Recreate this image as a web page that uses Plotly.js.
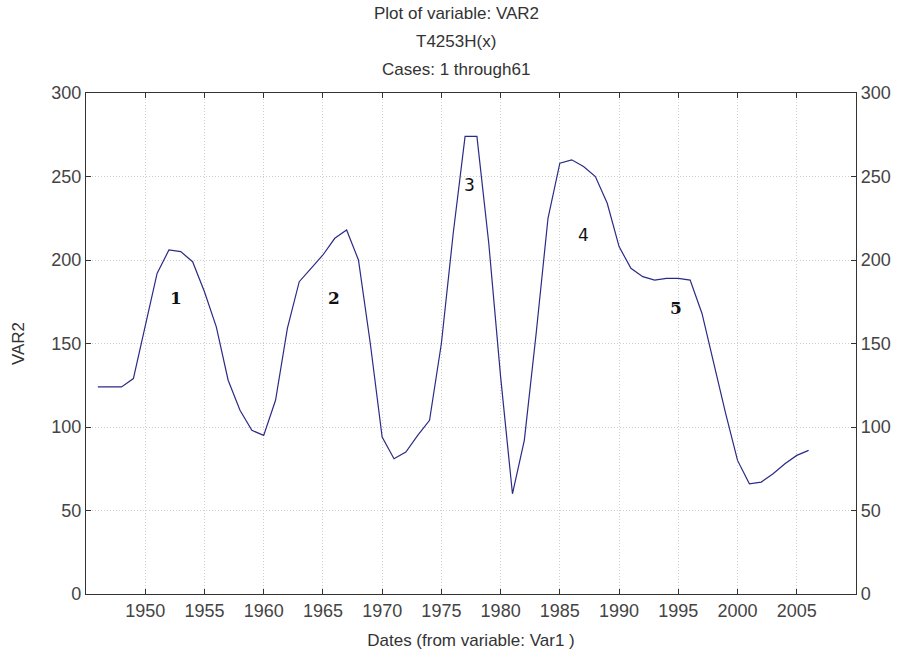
<!DOCTYPE html>
<html>
<head>
<meta charset="utf-8">
<script src="https://cdn.plot.ly/plotly-3.0.1.min.js"></script>
<style>html,body{margin:0;padding:0;background:#fff;}#chart{width:902px;height:665px;}</style>
</head>
<body>
<div id="chart"></div>
<script>
// Data: years (Var1) and smoothed VAR2 values
const years = [1946,1947,1948,1949,1950,1951,1952,1953,1954,1955,1956,1957,1958,1959,1960,
  1961,1962,1963,1964,1965,1966,1967,1968,1969,1970,1971,1972,1973,1974,1975,
  1976,1977,1978,1979,1980,1981,1982,1983,1984,1985,1986,1987,1988,1989,1990,
  1991,1992,1993,1994,1995,1996,1997,1998,1999,2000,2001,2002,2003,2004,2005,2006];
const var2 = [124,124,124,129,161,192,206,205,199,181,160,128,110,98,95,
  116,159,187,195,203,213,218,200,150,94,81,85,95,104,150,
  216,274,274,210,130,60,92,156,225,258,260,256,250,234,208,
  195,190,188,189,189,188,168,138,108,80,66,67,72,78,83,86];
const xTicks = [1950,1955,1960,1965,1970,1975,1980,1985,1990,1995,2000,2005];
const yTicks = [0,50,100,150,200,250,300];
const peakLabels = ["1","2","3","4","5"];
const peakX = [1952.6,1965.9,1977.4,1987.0,1994.8];
const peakY = [177,177,245,215,171];
const titleLines = ["Plot of variable: VAR2","T4253H(x)","Cases: 1 through61"];

const FONT = "Liberation Sans, Arial, sans-serif";
const plotTop = 93, plotH = 501, plotL = 86, plotW = 770;
const titleYpx = [13, 42, 70];
const titleAnn = titleLines.map((t, i) => ({
  text: t, xref: 'paper', yref: 'paper', x: (456 - plotL) / plotW, y: 1 + (plotTop - titleYpx[i]) / plotH,
  xanchor: 'center', yanchor: 'middle', showarrow: false,
  font: {family: FONT, size: 17, color: '#333'}
}));
const peakSerif = [true, true, false, false, true];
const peakAnn = peakLabels.map((t, i) => ({
  text: peakSerif[i] ? '<b>' + t + '</b>' : t, x: peakX[i], y: peakY[i], xref: 'x', yref: 'y',
  showarrow: false, xanchor: 'center', yanchor: 'middle',
  font: {family: peakSerif[i] ? 'DejaVu Serif, serif' : 'DejaVu Sans, sans-serif', size: 17, color: '#111'}
}));

const axisCommon = {
  showline: true, linecolor: '#333', linewidth: 1.2, mirror: false,
  ticks: 'inside', ticklen: 5, tickcolor: '#333',
  showgrid: true, gridcolor: '#cfcfcf', griddash: '1px,2px', gridwidth: 1,
  zeroline: false, tickfont: {family: FONT, size: 18, color: '#444'}
};

const data = [
  {x: years, y: var2, type: 'scatter', mode: 'lines',
   line: {color: '#2b2b86', width: 1.2}, hoverinfo: 'x+y'},
  {x: [years[0]], y: [var2[0]], yaxis: 'y2', type: 'scatter', mode: 'markers',
   marker: {opacity: 0}, hoverinfo: 'skip', showlegend: false}
];

const layout = {
  width: 902, height: 665,
  margin: {l: plotL, r: 902 - plotL - plotW, t: plotTop, b: 665 - plotTop - plotH},
  paper_bgcolor: '#fff', plot_bgcolor: '#fff', showlegend: false,
  xaxis: Object.assign({}, axisCommon, {
    range: [1945, 2010], tickvals: xTicks, ticktext: xTicks.map(String), mirror: 'ticks',
    title: {text: 'Dates (from variable: Var1 )', font: {family: FONT, size: 17, color: '#333'}, standoff: 14}
  }),
  yaxis: Object.assign({}, axisCommon, {
    range: [0, 300], tickvals: yTicks, mirror: 'ticks',
    title: {text: 'VAR2', font: {family: FONT, size: 17, color: '#333'}, standoff: 22}
  }),
  yaxis2: Object.assign({}, axisCommon, {
    range: [0, 300], tickvals: yTicks, overlaying: 'y', side: 'right', showgrid: false
  }),
  annotations: titleAnn.concat(peakAnn)
};

Plotly.newPlot('chart', data, layout, {displayModeBar: false, staticPlot: true});
</script>
</body>
</html>
